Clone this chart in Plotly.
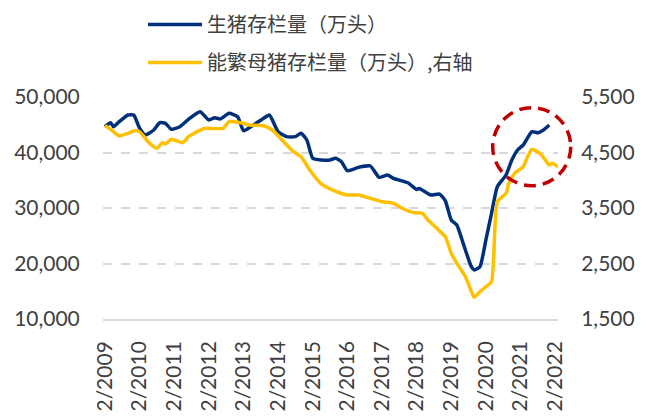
import plotly.graph_objects as go

hog_dates = ["2009-02","2009-04","2009-05","2009-07","2009-10","2009-12","2010-02","2010-04","2010-07","2010-09",
             "2010-11","2011-01","2011-04","2011-07","2011-11","2012-02","2012-04","2012-06","2012-09","2012-12",
             "2013-02","2013-05","2013-09","2013-11","2014-02","2014-05","2014-08","2014-10","2014-12","2015-02",
             "2015-05","2015-08","2015-10","2015-12","2016-02","2016-06","2016-10","2017-01","2017-04","2017-06",
             "2017-11","2018-02","2018-03","2018-07","2018-10","2018-12","2019-02","2019-04","2019-06","2019-09",
             "2019-10","2019-12","2020-02","2020-04","2020-06","2020-09","2020-11","2021-01","2021-03","2021-06",
             "2021-08","2021-10","2021-12"]
hog_values = [44650,45370,44650,45550,46760,46760,44360,43150,44050,45370,
              45260,44180,44650,45980,47350,45860,46270,46040,47060,46450,
              43930,44780,46160,46760,43750,42850,42850,43460,42250,38960,
              38650,38650,38960,38340,36720,37330,37570,35530,35950,35350,
              34540,33350,33530,32340,32520,31300,27840,26940,23930,19420,
              18830,19420,24230,29050,33840,35950,38650,40450,41350,43750,
              43570,44050,44950]

sow_dates = ["2009-02","2009-04","2009-07","2009-10","2009-12","2010-02","2010-05","2010-08","2010-10","2010-11",
             "2011-01","2011-05","2011-07","2011-11","2012-01","2012-07","2012-09","2013-01","2013-04","2013-09",
             "2013-12","2014-04","2014-07","2014-10","2015-01","2015-05","2015-09","2016-02","2016-06","2016-10",
             "2017-02","2017-06","2017-09","2018-01","2018-04","2018-06","2018-09","2018-12","2019-02","2019-04",
             "2019-07","2019-09","2019-10","2019-12","2020-02","2020-04","2020-06","2020-09","2020-10","2020-12",
             "2021-03","2021-04","2021-06","2021-09","2021-11","2021-12","2022-01","2022-03"]
sow_values = [4983,4918,4797,4846,4887,4875,4695,4576,4677,4653,
              4738,4677,4785,4905,4936,4936,5055,5037,4995,4983,
              4905,4695,4532,4424,4185,3935,3824,3734,3734,3675,
              3614,3585,3495,3416,3405,3284,3134,2980,2684,2504,
              2262,1992,1891,1992,2082,2172,3614,3765,3945,4125,
              4244,4365,4558,4473,4334,4275,4305,4244]

name_hog = "生猪存栏量（万头）"
name_sow = "能繁母猪存栏量（万头）,右轴"

tick_font = dict(family="Lato, Liberation Sans, sans-serif", size=21, color="#404040")

fig = go.Figure()
fig.add_trace(go.Scatter(x=hog_dates, y=hog_values, name=name_hog, mode="lines",
                         line=dict(color="#00307A", width=3.5, shape="spline", smoothing=0.5),
                         legendgroup="a"))
fig.add_trace(go.Scatter(x=sow_dates, y=sow_values, name=name_sow, mode="lines", yaxis="y2",
                         line=dict(color="#FFC000", width=3.5, shape="spline", smoothing=0.5),
                         legendgroup="b"))

fig.update_layout(
    width=640, height=409,
    margin=dict(l=95, r=90, t=89, b=98, autoexpand=False),
    plot_bgcolor="white", paper_bgcolor="white",
    showlegend=True,
    legend=dict(x=0.088, y=1.4144, xanchor="left", yanchor="top",
                font=dict(family="Noto Sans CJK SC", size=20, color="#404040"),
                traceorder="grouped", tracegroupgap=9, bgcolor="rgba(0,0,0,0)",
                itemwidth=54),
    xaxis=dict(type="date", range=["2009-01-11", "2022-03-03"], tickformat="%-m/%Y",
               dtick="M12", tick0="2009-02-01", tickangle=-90, tickfont=tick_font,
               showgrid=False, showline=True, linecolor="#D9D9D9", linewidth=1.5,
               ticks="outside", ticklen=12, tickcolor="rgba(0,0,0,0)", zeroline=False),
    yaxis=dict(range=[10000, 50000], dtick=10000, tick0=10000, tickformat=",", tickfont=tick_font,
               showgrid=True, gridcolor="#D9D9D9", griddash="dash", gridwidth=1.5,
               ticks="outside", ticklen=18, tickcolor="rgba(0,0,0,0)", zeroline=False),
    yaxis2=dict(range=[1500, 5500], dtick=1000, tick0=1500, tickformat=",", tickfont=tick_font,
                overlaying="y", side="right", showgrid=False, zeroline=False,
                ticks="outside", ticklen=18, tickcolor="rgba(0,0,0,0)"),
    shapes=[dict(type="circle", xref="paper", yref="paper",
                 x0=0.8565, x1=1.028, y0=0.6005, y1=0.952,
                 line=dict(color="#C00000", width=3.5, dash="12px,7px"))],
)

fig.write_html("out.html")
